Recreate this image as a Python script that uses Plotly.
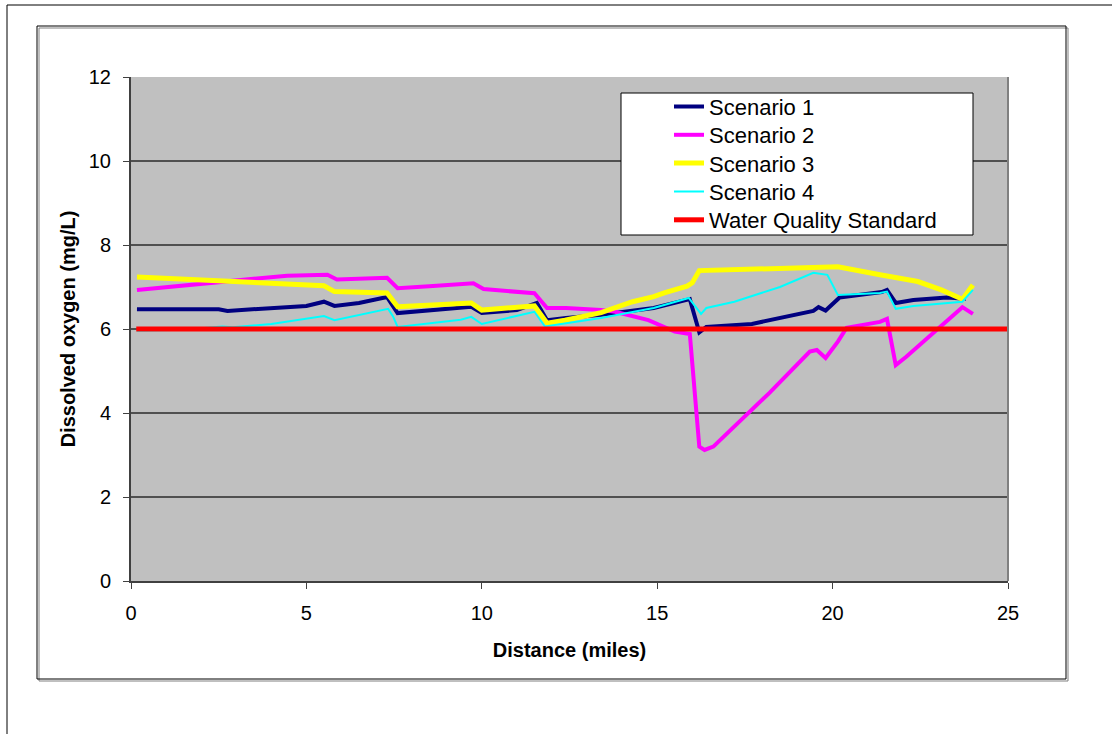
import plotly.graph_objects as go

# ---- data ----
s1_x = [0.17, 2.5, 2.75, 3.5, 5.0, 5.5, 5.8, 6.5, 7.3, 7.6, 8.5, 9.7, 10.0, 11.0, 11.57, 11.86,
        12.4, 13.4, 14.9, 15.93, 16.2, 16.4, 17.7, 18.9, 19.45, 19.6, 19.8, 20.2, 21.4, 21.55,
        21.8, 22.3, 23.25, 23.8]
s1_y = [6.47, 6.47, 6.43, 6.47, 6.55, 6.65, 6.55, 6.62, 6.76, 6.38, 6.45, 6.53, 6.38, 6.45, 6.62, 6.21,
        6.26, 6.34, 6.5, 6.71, 5.92, 6.05, 6.12, 6.33, 6.43, 6.52, 6.44, 6.75, 6.88, 6.93,
        6.62, 6.69, 6.75, 6.72]

s2_x = [0.17, 1.0, 2.0, 2.8, 3.96, 4.45, 5.6, 5.87, 7.3, 7.6, 8.5, 9.76, 10.05, 11.5, 11.86,
        12.4, 13.4, 13.8, 14.75, 15.5, 15.93, 16.2, 16.35, 16.6, 18.2, 19.35, 19.55, 19.8,
        20.15, 20.4, 21.35, 21.55, 21.8, 22.1, 23.7, 24.0]
s2_y = [6.93, 7.0, 7.08, 7.13, 7.24, 7.27, 7.29, 7.18, 7.22, 6.97, 7.02, 7.09, 6.95, 6.85, 6.5,
        6.5, 6.45, 6.41, 6.21, 5.94, 5.88, 3.2, 3.12, 3.2, 4.48, 5.46, 5.5, 5.31,
        5.7, 6.03, 6.17, 6.24, 5.14, 5.34, 6.52, 6.36]

s3_x = [0.17, 2.0, 4.0, 5.5, 5.8, 7.3, 7.6, 9.7, 10.0, 11.5, 11.86, 12.37, 13.4, 14.3, 14.9,
        15.2, 15.85, 16.0, 16.2, 18.6, 20.15, 21.35, 21.7, 22.43, 23.1, 23.7, 24.0]
s3_y = [7.24, 7.17, 7.1, 7.03, 6.89, 6.86, 6.53, 6.62, 6.45, 6.55, 6.14, 6.21, 6.39, 6.65, 6.77,
        6.86, 7.02, 7.1, 7.39, 7.45, 7.48, 7.29, 7.24, 7.13, 6.93, 6.71, 7.05]

s4_x = [0.17, 1.5, 2.6, 2.9, 4.0, 5.0, 5.5, 5.8, 6.5, 7.33, 7.47, 7.6, 9.4, 9.7, 10.0, 11.5,
        11.8, 13.4, 14.9, 15.9, 16.25, 16.4, 17.2, 18.5, 19.45, 19.85, 20.15, 21.35, 21.55,
        21.8, 22.3, 23.7, 24.0]
s4_y = [5.96, 5.98, 6.06, 6.04, 6.12, 6.24, 6.31, 6.21, 6.33, 6.48, 6.3, 6.05, 6.22, 6.29, 6.12, 6.41,
        6.06, 6.26, 6.5, 6.74, 6.36, 6.5, 6.65, 7.0, 7.34, 7.29, 6.81, 6.86, 6.89,
        6.48, 6.55, 6.65, 6.93]

std_x = [0.15, 25]
std_y = [6, 6]

x_ticks = [0, 5, 10, 15, 20, 25]
y_ticks = [0, 2, 4, 6, 8, 10, 12]

FONT = "Liberation Sans, Arial, sans-serif"

W, H = 1112, 734
L, R, T, B = 131, 1008, 77, 581


def px(xp):
    return (xp - L) / (R - L)


def py(yp):
    return (B - yp) / (B - T)


series = [
    ("Scenario 1", s1_x, s1_y, "#000080", 4),
    ("Scenario 2", s2_x, s2_y, "#FF00FF", 4),
    ("Scenario 3", s3_x, s3_y, "#FFFF00", 5),
    ("Scenario 4", s4_x, s4_y, "#00FFFF", 2),
    ("Water Quality Standard", std_x, std_y, "#FF0000", 5),
]

legend_names = ["legend", "legend2", "legend3", "legend4", "legend5"]
legend_rows = [106.7, 135.0, 163.3, 191.6, 220.0]

fig = go.Figure()
for (name, xs, ys, color, width), lg in zip(series, legend_names):
    fig.add_trace(go.Scatter(x=xs, y=ys, mode="lines", name=name, legend=lg,
                             line=dict(color=color, width=width)))

legend_layout = {}
for lg, row in zip(legend_names, legend_rows):
    legend_layout[lg] = dict(x=px(669), y=py(row), xanchor="left", yanchor="middle",
                             bgcolor="rgba(0,0,0,0)", borderwidth=0,
                             font=dict(family=FONT, size=22, color="black"))

shapes = [
    # outer frame
    dict(type="rect", xref="paper", yref="paper", x0=px(7), x1=px(1130), y0=py(760), y1=py(5),
         line=dict(color="black", width=1), layer="below"),
    # inner chart frame shadow
    dict(type="rect", xref="paper", yref="paper", x0=px(39), x1=px(1068), y0=py(681), y1=py(28),
         line=dict(color="#808080", width=1), layer="below"),
    # inner chart frame
    dict(type="rect", xref="paper", yref="paper", x0=px(37), x1=px(1066), y0=py(679), y1=py(26),
         line=dict(color="black", width=1), layer="below"),
    # plot area border (right)
    dict(type="line", xref="paper", yref="paper", x0=1, x1=1, y0=0, y1=1,
         line=dict(color="#808080", width=2)),
    # legend box
    dict(type="rect", xref="paper", yref="paper", x0=px(621), x1=px(973), y0=py(235), y1=py(93),
         line=dict(color="black", width=1), fillcolor="white", layer="above"),
]

fig.update_layout(
    width=W, height=H,
    margin=dict(l=L, r=W - R, t=T, b=H - B, autoexpand=False),
    paper_bgcolor="white",
    plot_bgcolor="#C0C0C0",
    font=dict(family=FONT, size=20, color="black"),
    showlegend=True,
    shapes=shapes,
    xaxis=dict(range=[0, 25], tickmode="array", tickvals=x_ticks,
               ticktext=[str(v) for v in x_ticks],
               showgrid=False, zeroline=False,
               showline=True, linecolor="#404040", linewidth=2,
               ticks="outside", ticklen=6, tickcolor="#404040", tickwidth=1,
               tickfont=dict(size=20), ticklabelstandoff=7,
               title=dict(text="<b>Distance (miles)</b>", font=dict(size=20), standoff=20),
               automargin=False),
    yaxis=dict(range=[0, 12], tickmode="array", tickvals=y_ticks,
               ticktext=[str(v) for v in y_ticks],
               showgrid=True, gridcolor="#505050", gridwidth=1.5, zeroline=False,
               showline=True, linecolor="#404040", linewidth=2,
               ticks="outside", ticklen=6, tickcolor="#404040", tickwidth=1,
               tickfont=dict(size=20), ticklabelstandoff=8,
               title=dict(text="<b>Dissolved oxygen (mg/L)</b>", font=dict(size=20), standoff=8),
               automargin=False),
    **legend_layout,
)

fig.write_html("out.html")
